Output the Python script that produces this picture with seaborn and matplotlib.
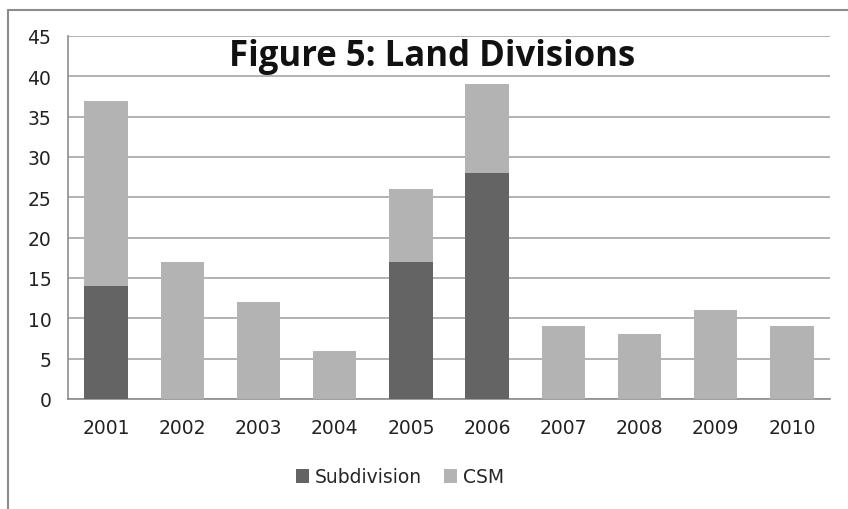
import matplotlib
matplotlib.use("Agg")
import matplotlib.pyplot as plt
import seaborn as sns
import pandas as pd
from matplotlib.patches import Patch
from matplotlib.lines import Line2D

years = ["2001", "2002", "2003", "2004", "2005", "2006", "2007", "2008", "2009", "2010"]
subdivision = [14, 0, 0, 0, 17, 28, 0, 0, 0, 0]
csm = [23, 17, 12, 6, 9, 11, 9, 8, 11, 9]
yticks = [0, 5, 10, 15, 20, 25, 30, 35, 40, 45]

dark = "#646464"
light = "#b3b3b3"

sns.set_theme(style="white")
plt.rcParams["font.family"] = ["Liberation Sans Narrow", "DejaVu Sans"]

df = pd.DataFrame({"year": years, "sub": subdivision, "csm": csm})
df["total"] = df["sub"] + df["csm"]

fig = plt.figure(figsize=(8.48, 5.10), dpi=100)
ax = fig.add_axes([68/848, 110/510, 762/848, 363/510])

sns.barplot(data=df, x="year", y="total", color=light, width=0.57, saturation=1, ax=ax,
            zorder=3, linewidth=0, edgecolor="none")
sns.barplot(data=df, x="year", y="sub", color=dark, width=0.57, saturation=1, ax=ax,
            zorder=4, linewidth=0, edgecolor="none")

ax.set_ylim(0, 45)
ax.set_xlim(-0.5, 9.5)
ax.set_yticks(yticks)
ax.set_yticklabels([str(t) for t in yticks])
ax.set_xlabel("")
ax.set_ylabel("")
ax.yaxis.grid(True, color="#a6a6a6", linewidth=1.2, zorder=0)
ax.set_axisbelow(True)
ax.tick_params(axis="both", length=0, labelsize=13.5, colors="#222222")
ax.tick_params(axis="y", pad=12)
ax.tick_params(axis="x", pad=14)
for s in ["top", "right"]:
    ax.spines[s].set_visible(False)
ax.spines["left"].set_color("#8c8c8c")
ax.spines["left"].set_linewidth(1.2)
ax.spines["bottom"].set_color("#8c8c8c")
ax.spines["bottom"].set_linewidth(1.2)

ax.text(0.478, 0.945, "Figure 5: Land Divisions", transform=ax.transAxes, ha="center", va="center",
        fontsize=25, fontweight="bold", family=["Open Sans", "DejaVu Sans"], color="#111111")

handles = [Patch(facecolor=dark, edgecolor="none"), Patch(facecolor=light, edgecolor="none")]
fig.legend(handles, ["Subdivision", "CSM"], loc="center", bbox_to_anchor=(400/848, 1 - 478/510),
           ncol=2, frameon=False, fontsize=13.5, handlelength=0.7, handleheight=0.7,
           handletextpad=0.3, columnspacing=1.2)

# outer chart border
fig.add_artist(Line2D([8/848, 1.0], [1 - 11/510, 1 - 11/510], transform=fig.transFigure, color="#8c8c8c", lw=1.5))
fig.add_artist(Line2D([8/848, 8/848], [0, 1 - 11/510], transform=fig.transFigure, color="#8c8c8c", lw=1.5))

fig.savefig("out.png", dpi=100)
